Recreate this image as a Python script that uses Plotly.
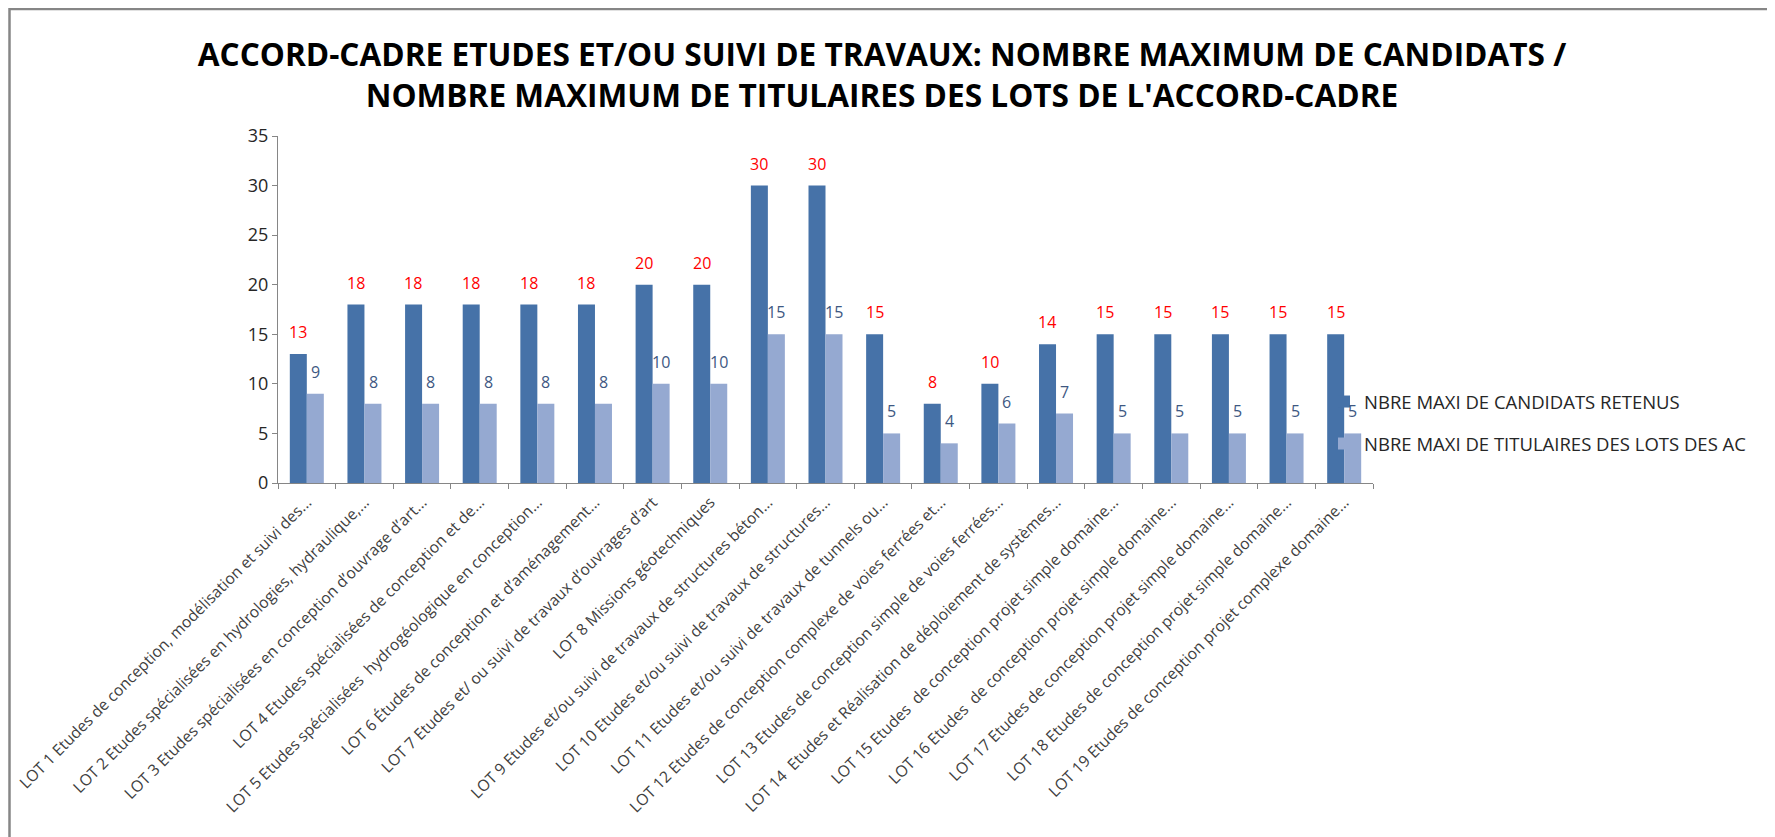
import plotly.graph_objects as go

categories = [
    "LOT 1 Etudes de conception, modélisation et suivi des...",
    "LOT 2 Etudes spécialisées en hydrologies, hydraulique,...",
    "LOT 3 Etudes spécialisées en conception d’ouvrage d’art...",
    "LOT 4 Etudes spécialisées de conception et de...",
    "LOT 5 Etudes spécialisées  hydrogéologique en conception...",
    "LOT 6 Études de conception et d’aménagement...",
    "LOT 7 Etudes et/ ou suivi de travaux d’ouvrages d’art",
    "LOT 8 Missions géotechniques",
    "LOT 9 Etudes et/ou suivi de travaux de structures béton...",
    "LOT 10 Etudes et/ou suivi de travaux de structures...",
    "LOT 11 Etudes et/ou suivi de travaux de tunnels ou...",
    "LOT 12 Etudes de conception complexe de voies ferrées et...",
    "LOT 13 Etudes de conception simple de voies ferrées...",
    "LOT 14  Etudes et Réalisation de déploiement de systèmes...",
    "LOT 15 Etudes  de conception projet simple domaine...",
    "LOT 16 Etudes  de conception projet simple domaine...",
    "LOT 17 Etudes de conception projet simple domaine...",
    "LOT 18 Etudes de conception projet simple domaine...",
    "LOT 19 Etudes de conception projet complexe domaine...",
]
candidats = [13, 18, 18, 18, 18, 18, 20, 20, 30, 30, 15, 8, 10, 14, 15, 15, 15, 15, 15]
titulaires = [9, 8, 8, 8, 8, 8, 10, 10, 15, 15, 5, 4, 6, 7, 5, 5, 5, 5, 5]
series_names = ["NBRE MAXI DE CANDIDATS RETENUS", "NBRE MAXI DE TITULAIRES DES LOTS DES AC"]
title_text = ("ACCORD-CADRE ETUDES ET/OU SUIVI DE TRAVAUX: NOMBRE MAXIMUM DE CANDIDATS /<br>"
              "NOMBRE MAXIMUM DE TITULAIRES DES LOTS DE L'ACCORD-CADRE")

DARK = "#4672A8"
LIGHT = "#95A9D1"
FONT = "Open Sans"

W, H = 1775, 837
OFF = 8  # page body margin
L, R, T, B = 278 - OFF, 1373 - OFF, 136 - OFF, 483 - OFF

fig = go.Figure()
fig.add_trace(go.Bar(x=categories, y=candidats, name=series_names[0], showlegend=True,
                     marker=dict(color=DARK, line=dict(width=0)), legend="legend"))
fig.add_trace(go.Bar(x=categories, y=titulaires, name=series_names[1], showlegend=True,
                     marker=dict(color=LIGHT, line=dict(width=0)), legend="legend2"))

annotations = []
for c, v in zip(categories, candidats):
    annotations.append(dict(x=c, y=v, xref="x", yref="y", text=str(v), showarrow=False,
                            xshift=-8.6, yshift=22, font=dict(family=FONT, size=16, color="#FF0000")))
for c, v in zip(categories, titulaires):
    annotations.append(dict(x=c, y=v, xref="x", yref="y", text=str(v), showarrow=False,
                            xshift=8.6, yshift=22, font=dict(family=FONT, size=16, color="#3E5882")))

pw = R - L
ph = B - T
fig.update_layout(
    width=W, height=H, showlegend=True,
    margin=dict(l=L, r=W - R, t=T, b=H - B, autoexpand=False),
    paper_bgcolor="white", plot_bgcolor="white",
    barmode="group", bargap=0.41, bargroupgap=0,
    title=dict(text=title_text, x=(882 - OFF) / W, xref="container", xanchor="center",
               y=1 - (66 - OFF) / H, yanchor="middle",
               font=dict(family=FONT, size=31.6, color="black", weight="bold")),
    font=dict(family=FONT, size=14, color="#404040"),
    xaxis=dict(type="category", tickson="boundaries", ticks="outside", ticklen=5,
               tickcolor="#868686", showline=True, linecolor="#868686", linewidth=1,
               tickangle=-45, tickfont=dict(family=FONT, size=15.7, color="#404040"),
               ticklabelstandoff=3, showgrid=False),
    yaxis=dict(range=[0, 35], dtick=5, ticks="outside", ticklen=5, tickcolor="#868686",
               showline=True, linecolor="#868686", linewidth=1, showgrid=False, zeroline=False,
               tickfont=dict(family=FONT, size=18, color="#262626")),
    legend=dict(x=(1316 - L) / pw, y=(B - 394) / ph, xanchor="left", yanchor="middle",
                font=dict(family=FONT, size=18.5, color="#262626"), bgcolor="rgba(0,0,0,0)"),
    legend2=dict(x=(1316 - L) / pw, y=(B - 436) / ph, xanchor="left", yanchor="middle",
                 font=dict(family=FONT, size=18.5, color="#262626"), bgcolor="rgba(0,0,0,0)"),
    annotations=annotations,
    shapes=[dict(type="rect", xref="paper", yref="paper",
                 x0=(1.5 - L) / pw, x1=(1765 - L) / pw,
                 y0=(B - 845) / ph, y1=(B - 1) / ph,
                 line=dict(color="#868686", width=2.5), fillcolor="rgba(0,0,0,0)", layer="below")],
)

fig.write_html("out.html")
